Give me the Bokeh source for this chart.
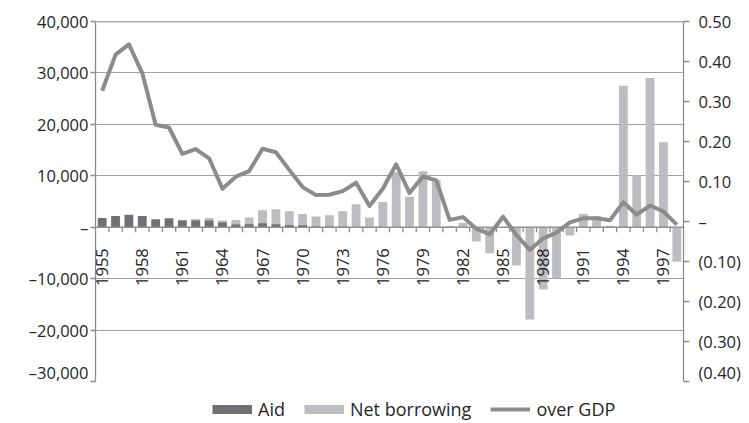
import math
from bokeh.plotting import figure
from bokeh.layouts import column
from bokeh.models import (Range1d, LinearAxis, FixedTicker, CustomJSTickFormatter,
                          ColumnDataSource, Span, Legend, LegendItem)
from bokeh.core.properties import value
from bokeh.embed import file_html
from bokeh.resources import INLINE

# ---------------- data ----------------
years = list(range(1955, 1999))
aid = [1800, 2200, 2400, 2200, 1550, 1750, 1350, 1300, 1300, 900,
       550, 600, 750, 600, 400, 400, 150, 150, 80, 0,
       0, 0, 0, 0, 0, 0, 0, 0, 0, 0,
       0, 0, 0, 0, 0, 0, 0, 0, 0, 0,
       0, 0, 0, 0]
net_borrowing = [0, 0, 0, 0, 0, 0, 0, 1600, 1800, 1300,
                 1400, 1900, 3300, 3500, 3100, 2550, 2100, 2350, 3100, 4450,
                 1900, 4900, 10700, 5900, 10900, 9200, 250, 830, -2800, -5050,
                 0, -7450, -17950, -12100, -9900, -1600, 2580, 2130, 300, 27500,
                 10100, 29000, 16500, -6700]
over_gdp = [0.327, 0.417, 0.443, 0.371, 0.242, 0.235, 0.169, 0.181, 0.158, 0.082,
            0.112, 0.126, 0.182, 0.173, 0.129, 0.086, 0.066, 0.067, 0.076, 0.097,
            0.039, 0.082, 0.143, 0.071, 0.1125, 0.103, 0.004, 0.011, -0.018, -0.032,
            0.012, -0.034, -0.071, -0.042, -0.028, -0.002, 0.008, 0.008, 0.003, 0.048,
            0.017, 0.040, 0.025, -0.008]
label_years = [1955, 1958, 1961, 1964, 1967, 1970, 1973, 1976, 1979, 1982,
               1985, 1988, 1991, 1994, 1997]
left_ticks = [-30000, -20000, -10000, 0, 10000, 20000, 30000, 40000]
right_ticks = [-0.4, -0.3, -0.2, -0.1, 0.0, 0.1, 0.2, 0.3, 0.4, 0.5]
series_names = ["Aid", "Net borrowing", "over GDP"]

# ---------------- style ----------------
FONT = "Open Sans"
FS = "16.5px"
TXT = "#262626"
AID_C = "#717175"
NB_C = "#bdbdc1"
LINE_C = "#8c8c8c"
GRID_C = "#a0a0a0"
AXIS_C = "#8c8c8c"

W = 747
ML, MR, MT, FRAME_H, MB = 95, 64, 21, 360, 2
H = MT + FRAME_H + MB
LEG_H = 421 - H

p = figure(width=W, height=H, output_backend="svg", toolbar_location=None,
           x_range=Range1d(years[0] - 0.5, years[-1] + 0.5),
           y_range=Range1d(left_ticks[0], left_ticks[-1]),
           x_axis_location=None,
           min_border_left=ML, min_border_right=MR,
           min_border_top=MT, min_border_bottom=MB)
p.outline_line_color = None
p.background_fill_color = "white"
p.border_fill_color = "white"
p.extra_y_ranges = {"gdp": Range1d(right_ticks[0], right_ticks[-1])}

# left axis
ly = p.yaxis[0]
ly.ticker = FixedTicker(ticks=left_ticks)
ly.formatter = CustomJSTickFormatter(code="""
    const v = Math.round(tick);
    if (v === 0) return '\u2013';
    const s = String(Math.abs(v)).replace(/\\B(?=(\\d{3})+(?!\\d))/g, ',');
    return v < 0 ? '\u2013' + s : s;
""")
# right axis
ry = LinearAxis(y_range_name="gdp", ticker=FixedTicker(ticks=right_ticks))
ry.formatter = CustomJSTickFormatter(code="""
    const v = Math.round(tick * 100) / 100;
    if (Math.abs(v) < 1e-9) return '\u2013';
    const s = Math.abs(v).toFixed(2);
    return v < 0 ? '(' + s + ')' : s;
""")
p.add_layout(ry, "right")

for ax, standoff, tout in ((ly, 2, 5), (ry, 9, 6)):
    ax.axis_line_color = AXIS_C
    ax.axis_line_width = 1.3
    ax.major_tick_line_color = AXIS_C
    ax.major_tick_line_width = 1.3
    ax.major_tick_out = tout
    ax.major_tick_in = 0
    ax.minor_tick_line_color = None
    ax.major_label_text_font = FONT
    ax.major_label_text_font_size = FS
    ax.major_label_text_color = TXT
    ax.major_label_standoff = standoff

p.xgrid.visible = False
p.ygrid.ticker = FixedTicker(ticks=left_ticks)
p.ygrid.grid_line_color = GRID_C
p.ygrid.grid_line_width = 1.2

src = ColumnDataSource(dict(year=years, aid=aid, nb=net_borrowing, gdp=over_gdp))

p.vbar(x="year", top="nb", bottom=0, width=0.66, source=src,
       fill_color=NB_C, line_color=None)
p.vbar(x="year", top="aid", bottom=0, width=0.66, source=src,
       fill_color=AID_C, line_color=None)

# category axis drawn at zero: line, ticks between categories, rotated year labels
tick_len = 5 * (left_ticks[-1] - left_ticks[0]) / FRAME_H
bounds = [y - 0.5 for y in years[1:]]
p.segment(x0=bounds, y0=[0] * len(bounds), x1=bounds, y1=[-tick_len] * len(bounds),
          line_color=AXIS_C, line_width=1.3)
p.add_layout(Span(location=0, dimension="width", line_color=AXIS_C, line_width=1.3))
p.add_layout(Span(location=left_ticks[-1], dimension="width", line_color="#595959", line_width=1.6))

p.text(x=label_years, y=[0] * len(label_years), text=[str(y) for y in label_years],
       angle=math.pi / 2, text_align="right", text_baseline="middle",
       x_offset=0, y_offset=21,
       text_font=value(FONT), text_font_size=FS, text_color=TXT)

p.line(x="year", y="gdp", source=src, y_range_name="gdp",
       line_color=LINE_C, line_width=4, line_join="round")

# ---------------- legend strip ----------------
leg = figure(width=W, height=LEG_H, output_backend="svg", toolbar_location=None,
             x_range=Range1d(0, 1), y_range=Range1d(0, 1),
             x_axis_location=None, y_axis_location=None,
             min_border_left=ML, min_border_right=MR,
             min_border_top=0, min_border_bottom=0)
leg.outline_line_color = None
leg.xgrid.visible = False
leg.ygrid.visible = False
# key swatches (their single data point lies outside this strip's range, so only the key shows)
key_src = ColumnDataSource(dict(x=[years[0]], y=[aid[0]]))
ra = leg.line(x="x", y="y", source=key_src, line_color=AID_C, line_width=9, line_cap="butt")
rn = leg.line(x="x", y="y", source=key_src, line_color=NB_C, line_width=9, line_cap="butt")
rl = leg.line(x="x", y="y", source=key_src, line_color=LINE_C, line_width=4)
legend = Legend(items=[LegendItem(label=series_names[0], renderers=[ra]),
                       LegendItem(label=series_names[1], renderers=[rn]),
                       LegendItem(label=series_names[2], renderers=[rl])],
                orientation="horizontal", location=(117, 0),
                glyph_width=40, glyph_height=24, label_height=24,
                label_standoff=6, spacing=19, padding=0, margin=0,
                border_line_color=None, background_fill_alpha=0,
                label_text_font=FONT, label_text_font_size="18px",
                label_text_color=TXT)
leg.add_layout(legend, "center")

layout = column(p, leg, spacing=0)
open("out.html", "w").write(file_html(layout, INLINE))
